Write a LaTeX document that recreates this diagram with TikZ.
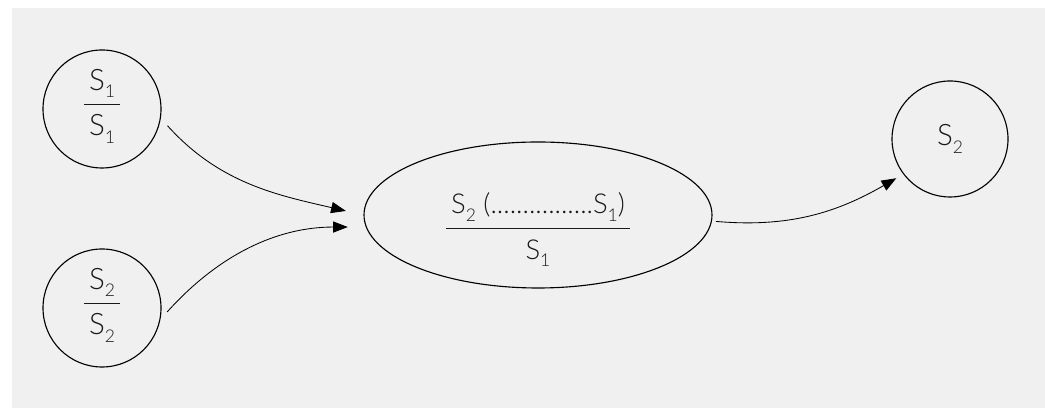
\documentclass[tikz,border=0pt]{standalone}
\usepackage{fontspec}
\setmainfont{Lato}[UprightFont=* Light]
\usepackage{tikz}
\usepackage{xcolor}
\usetikzlibrary{arrows.meta,calc,positioning,shapes.geometric}

\definecolor{canvasgrey}{RGB}{240,240,240}
\definecolor{inkgrey}{RGB}{25,25,25}
\setlength{\arrayrulewidth}{0.8pt}
\newcommand{\lowsub}[1]{\raisebox{-5.5pt}{\fontsize{12.5}{13}\selectfont #1}}
\newcommand{\barfrac}[2]{%
  \begin{tabular}{@{\hspace{3.5pt}}c@{\hspace{3.5pt}}}
    \rule[-10pt]{0pt}{27pt}#1\\\hline
    \rule[-12pt]{0pt}{33.4pt}#2
  \end{tabular}}

\begin{document}
\begin{tikzpicture}[
  state/.style={draw, circle, line width=0.8pt, minimum size=2.95cm, inner sep=0pt,
    text=inkgrey, font=\fontsize{21}{25}\selectfont},
  merged/.style={draw, ellipse, line width=0.8pt, minimum width=8.7cm, minimum height=3.65cm, inner sep=0pt},
  fractext/.style={text=inkgrey, font=\fontsize{19.5}{24}\selectfont, inner sep=0pt},
  arrow/.style={-{Triangle[length=3.7mm, width=2.8mm]}, line width=0.6pt}
]
\useasboundingbox (0,0) rectangle (26.125,10.2);
\fill[canvasgrey] (0.3,0) rectangle (26.125,10.0);
\node[state] (first) at (2.55,7.475) {\barfrac{S\lowsub{1}}{S\lowsub{1}}};
\node[state] (second) at (2.55,2.5) {\barfrac{S\lowsub{2}}{S\lowsub{2}}};
\node[merged] (join) at (13.45,4.825) {};
\node[fractext, below=0.45cm of join.center, anchor=center] (jointext)
  {\barfrac{S\lowsub{2} (................S\lowsub{1})}{S\lowsub{1}}};
\node[state, minimum size=2.9cm] (result) at (23.75,6.725) {S\lowsub{2}};
\draw[arrow, shorten <=0.25cm, shorten >=0.45cm] (first.-9) to[out=-48, in=167] (join.west);
\draw[arrow, shorten <=0.25cm, shorten >=0.45cm] (second.-11) to[out=48, in=180] (join.184);
\draw[arrow, shorten <=0.1cm, shorten >=0.2cm] (join.-2) to[out=-5, in=210] (result.217);
\end{tikzpicture}
\end{document}
